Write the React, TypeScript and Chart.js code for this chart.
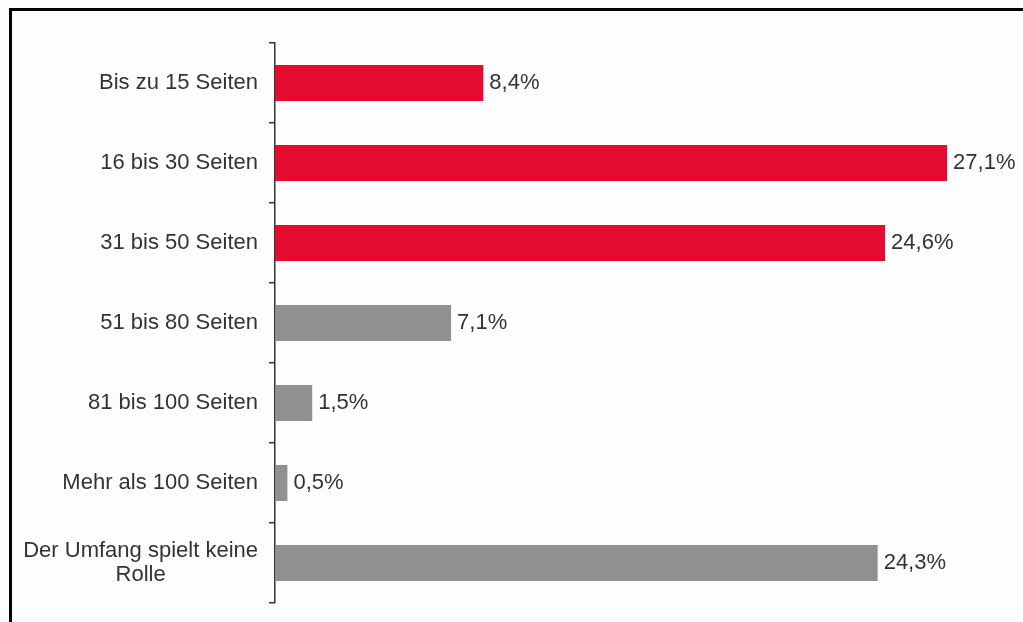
import React, { useEffect, useRef } from "react";
import { Chart, registerables } from "chart.js";

Chart.register(...registerables);

const categories: (string | string[])[] = [
  "Bis zu 15 Seiten",
  "16 bis 30 Seiten",
  "31 bis 50 Seiten",
  "51 bis 80 Seiten",
  "81 bis 100 Seiten",
  "Mehr als 100 Seiten",
  ["Der Umfang spielt keine", "Rolle"],
];
const values = [8.4, 27.1, 24.6, 7.1, 1.5, 0.5, 24.3];
const valueLabels = ["8,4%", "27,1%", "24,6%", "7,1%", "1,5%", "0,5%", "24,3%"];
const RED = "#E50B30";
const GRAY = "#8F918E";
const barColors = [RED, RED, RED, GRAY, GRAY, GRAY, GRAY];

const FONT = "22px 'Liberation Sans', Arial, sans-serif";
const TEXT = "#333333";

const labelPlugin = {
  id: "customLabels",
  afterDatasetsDraw(chart: any) {
    const ctx = chart.ctx;
    const meta = chart.getDatasetMeta(0);
    const yScale = chart.scales.y;
    ctx.save();
    ctx.font = FONT;
    ctx.fillStyle = TEXT;
    ctx.textBaseline = "middle";
    // value labels
    meta.data.forEach((bar: any, i: number) => {
      ctx.textAlign = "left";
      ctx.fillText(valueLabels[i], bar.x + 6, bar.y);
    });
    // category labels
    const rightEdge = yScale.right - 17;
    categories.forEach((cat, i) => {
      const y = yScale.getPixelForValue(i);
      const lines = Array.isArray(cat) ? cat : [cat];
      const widths = lines.map((l) => ctx.measureText(l).width);
      const maxW = Math.max(...widths);
      const center = rightEdge - maxW / 2;
      const lh = 24;
      lines.forEach((l, j) => {
        ctx.textAlign = "center";
        ctx.fillText(l, center, y + (j - (lines.length - 1) / 2) * lh);
      });
    });
    ctx.restore();
  },
};

export default function App() {
  const ref = useRef<HTMLCanvasElement>(null);
  useEffect(() => {
    if (!ref.current) return;
    const chart = new Chart(ref.current, {
      type: "bar",
      data: {
        labels: categories as any,
        datasets: [
          {
            data: values,
            backgroundColor: barColors,
            borderWidth: 0,
            barPercentage: 0.9,
            categoryPercentage: 0.5,
          },
        ],
      },
      options: {
        indexAxis: "y",
        animation: false,
        responsive: false,
        layout: { padding: { top: 43, bottom: 19, left: 0, right: 4 } },
        plugins: { legend: { display: false }, tooltip: { enabled: false } },
        scales: {
          x: { display: false, min: 0, max: 30 },
          y: {
            ticks: { display: false },
            grid: {
              offset: true,
              drawOnChartArea: false,
              drawTicks: true,
              tickLength: 6,
              color: "#333333",
              lineWidth: 1.5,
            },
            border: { display: true, color: "#333333", width: 1.5 },
            afterFit: (scale: any) => {
              scale.width = 275;
            },
          },
        },
      },
      plugins: [labelPlugin],
    });
    return () => chart.destroy();
  }, []);
  return (
    <div style={{ position: "fixed", left: 0, top: 0, width: 1023, height: 622, background: "#FDFDFD" }}>
      <div
        style={{
          position: "absolute",
          left: 9,
          top: 8,
          right: 0,
          bottom: 0,
          borderLeft: "3px solid #000",
          borderTop: "3px solid #000",
        }}
      />
      <canvas ref={ref} width={1023} height={622} style={{ position: "absolute", left: 0, top: 0 }} />
    </div>
  );
}
